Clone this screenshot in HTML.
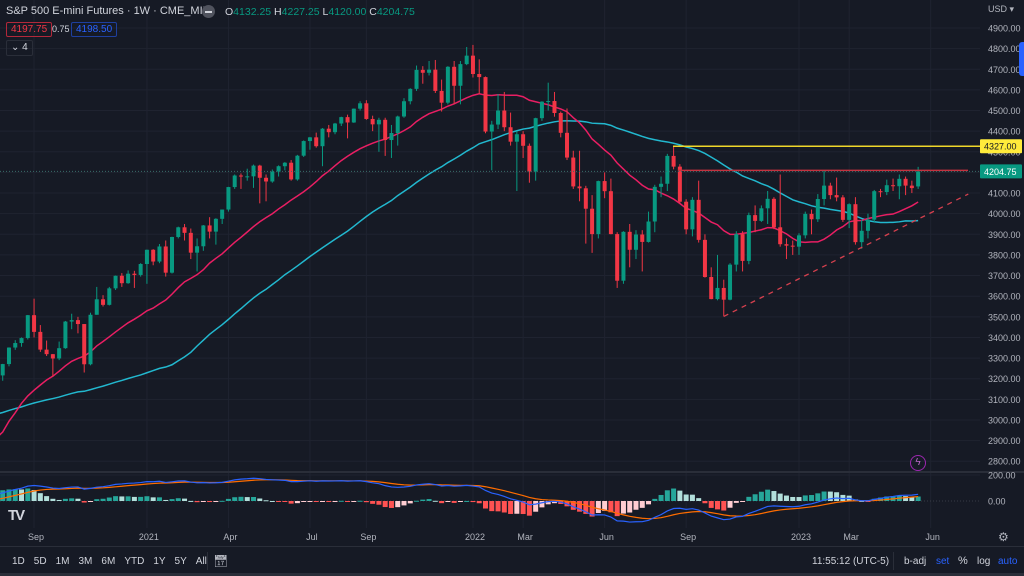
<!DOCTYPE html>
<html><head><meta charset="utf-8">
<style>
html,body{margin:0;padding:0;background:#161a25;}
body{width:1024px;height:576px;overflow:hidden;position:relative;font-family:"Liberation Sans",sans-serif;}
svg{position:absolute;left:0;top:0;}
.t{position:absolute;font-size:11px;color:#d1d4dc;white-space:nowrap;}
</style></head>
<body>
<svg id="chart" width="1024" height="576"></svg>

<div class="t" style="left:6px;top:5px;font-size:11px">S&amp;P 500 E-mini Futures · 1W · CME_MINI</div>
<div style="position:absolute;left:202px;top:5px;width:13px;height:13px;border-radius:50%;background:#50535e"><div style="position:absolute;left:3px;top:6px;width:7px;height:1.5px;background:#d1d4dc"></div></div>
<div class="t" style="left:225px;top:6px;font-size:10.5px">O<span style="color:#089981">4132.25</span> H<span style="color:#089981">4227.25</span> L<span style="color:#089981">4120.00</span> C<span style="color:#089981">4204.75</span></div>
<div class="t" style="left:6px;top:22px;border:1px solid #b2283a;border-radius:2px;padding:1px 4px;color:#f23645;font-size:10px">4197.75</div>
<div class="t" style="left:52px;top:24px;font-size:9px">0.75</div>
<div class="t" style="left:71px;top:22px;border:1px solid #1e3f9e;border-radius:2px;padding:1px 4px;color:#2962ff;font-size:10px">4198.50</div>
<div class="t" style="left:6px;top:40px;border:1px solid #2a2e39;border-radius:2px;padding:0 4px;font-size:10px;height:14px;line-height:14px">⌄ 4</div>

<div class="t" style="left:988px;top:4px;font-size:9px;color:#b2b5be">USD ▾</div>
<div style="position:absolute;left:1019px;top:42px;width:5px;height:34px;background:#2962ff;border-radius:3px 0 0 3px"></div>

<div class="t" style="left:910px;top:455px;width:14px;height:14px;border:1.5px solid #9c27b0;border-radius:50%;color:#ba68c8;font-size:10px;text-align:center;line-height:14px">ϟ</div>
<div class="t" style="left:8px;top:507px;font-size:15px;font-weight:bold;color:#d1d4dc;letter-spacing:-2px">TV</div>
<div class="t" style="left:998px;top:530px;font-size:12px;color:#b2b5be">⚙</div>

<div style="position:absolute;left:0;top:546px;width:1024px;height:1px;background:#2a2e39"></div>
<div id="tb" class="t" style="left:12px;top:556px;font-size:10px;color:#d1d4dc"></div>
<div style="position:absolute;left:207px;top:552px;width:1px;height:18px;background:#2a2e39"></div>
<div class="t" style="left:213px;top:554px;font-size:12px;color:#b2b5be">📅︎</div>
<div class="t" style="left:812px;top:556px;font-size:10px">11:55:12 (UTC-5)</div>
<div style="position:absolute;left:893px;top:552px;width:1px;height:18px;background:#2a2e39"></div>
<div class="t" style="left:904px;top:556px;font-size:10px">b-adj</div>
<div class="t" style="left:936px;top:556px;font-size:10px;color:#2962ff">set</div>
<div class="t" style="left:958px;top:555px;font-size:11px">%</div>
<div class="t" style="left:977px;top:556px;font-size:10px">log</div>
<div class="t" style="left:998px;top:556px;font-size:10px;color:#2962ff">auto</div>
<div style="position:absolute;left:0;top:573px;width:1024px;height:3px;background:#2a2e39"></div>

<script>
// ---- data ----
const preCloses=[3026,2932,2918,2889,2847,2926,2979,3007,2992,2961,2952,2970,2986,3022,3066,3093,3120,3110,3141,3146,3169,3221,3240,3235,3265,3330,3295,3226,3328,3380,3338,2954,2972,2711,2305,2541,2489,2790,2875,2837,2831,2930,2864,2955,3044,3194,3041,3098,3009,3130,3185];
const opens=[3185,3224,3216,3271,3351,3373,3397,3508,3427,3341,3319,3298,3348,3477,3484,3465,3270,3510,3585,3558,3638,3699,3663,3709,3703,3756,3825,3768,3841,3714,3887,3934,3907,3811,3842,3943,3913,3975,4020,4129,4185,4180,4181,4233,4174,4156,4204,4230,4247,4166,4281,4352,4370,4327,4412,4395,4437,4468,4442,4509,4535,4459,4433,4455,4357,4391,4471,4545,4605,4697,4683,4698,4595,4538,4712,4620,4725,4766,4677,4662,4398,4432,4500,4419,4349,4385,4329,4204,4463,4543,4546,4488,4392,4272,4132,4123,4024,3901,4158,4109,3901,3675,3912,3825,3899,3863,3962,4130,4145,4280,4228,4058,3924,4067,3873,3693,3586,3640,3583,3753,3901,3771,3993,3965,4026,4072,3934,3852,3845,3840,3895,3999,3973,4071,4136,4090,4079,3970,4046,3862,3917,3971,4109,4105,4138,4133,4169,4136,4132];
const highs=[3238,3280,3272,3352,3387,3400,3509,3588,3460,3385,3320,3380,3480,3515,3500,3465,3520,3645,3605,3645,3700,3712,3725,3723,3760,3826,3828,3853,3870,3888,3937,3950,3928,3880,3945,3983,3978,4020,4130,4190,4195,4218,4238,4237,4190,4214,4234,4250,4260,4285,4355,4372,4393,4415,4430,4440,4470,4480,4510,4545,4550,4475,4465,4465,4430,4475,4560,4608,4718,4715,4740,4745,4650,4715,4740,4740,4808,4818,4748,4665,4450,4580,4590,4490,4400,4400,4340,4465,4545,4635,4590,4495,4510,4305,4305,4135,4090,4160,4200,4170,3910,3915,3950,3920,3920,4010,4140,4180,4290,4325,4240,4070,4080,4160,3900,3740,3800,3680,3760,3915,3915,4005,4040,4040,4110,4080,4190,3880,3870,3905,4010,4020,4095,4210,4150,4175,4090,4050,4080,3970,4000,4115,4120,4165,4170,4190,4180,4160,4227];
const lows=[3170,3200,3190,3260,3340,3355,3390,3400,3330,3310,3210,3290,3345,3440,3420,3230,3265,3510,3550,3555,3630,3645,3660,3640,3695,3660,3750,3760,3695,3710,3880,3870,3780,3720,3820,3880,3850,3950,4010,4120,4120,4160,4125,4050,4060,4150,4180,4210,4160,4160,4275,4310,4320,4230,4370,4385,4425,4365,4440,4500,4455,4400,4300,4280,4270,4330,4465,4530,4595,4630,4670,4585,4495,4530,4530,4530,4720,4660,4580,4390,4210,4410,4400,4330,4110,4270,4150,4160,4450,4500,4470,4370,4260,4120,4060,3855,3810,3880,4075,3900,3640,3660,3740,3780,3720,3860,3910,4080,4110,4215,4050,3900,3890,3860,3690,3585,3580,3502,3580,3720,3720,3755,3910,3960,3950,3925,3840,3780,3800,3800,3880,3900,3960,4040,4070,4060,3960,3930,3850,3830,3880,3960,4080,4090,4110,4070,4090,4100,4120];
const closes=[3224,3216,3271,3351,3373,3397,3508,3427,3341,3319,3298,3348,3477,3484,3465,3270,3510,3585,3558,3638,3699,3663,3709,3703,3756,3825,3768,3841,3714,3887,3934,3907,3811,3842,3943,3913,3975,4020,4129,4185,4180,4181,4233,4174,4156,4204,4230,4247,4166,4281,4352,4370,4327,4412,4395,4437,4468,4442,4509,4535,4459,4433,4455,4357,4391,4471,4545,4605,4697,4683,4698,4595,4538,4712,4620,4725,4766,4677,4662,4398,4432,4500,4419,4349,4385,4329,4204,4463,4543,4546,4488,4392,4272,4132,4123,4024,3901,4158,4109,3901,3675,3912,3825,3899,3863,3962,4130,4145,4280,4228,4058,3924,4067,3873,3693,3586,3640,3583,3753,3901,3771,3993,3965,4026,4072,3934,3852,3845,3840,3895,3999,3973,4071,4136,4090,4079,3970,4046,3862,3917,3971,4109,4105,4138,4133,4169,4136,4124,4204.75];
const priceTicks=[4900,4800,4700,4600,4500,4400,4300,4200,4100,4000,3900,3800,3700,3600,3500,3400,3300,3200,3100,3000,2900,2800];
const timeLabels=["Sep","2021","Apr","Jul","Sep","2022","Mar","Jun","Sep","2023","Mar","Jun"];
const timeLabelIdx=[7,25,38,51,60,77,85,98,111,129,137,150];
const macdTicks=[200,0];
const resistance=4210, yellowLevel=4327, lastPrice=4204.75;
const trendStart=[117,3502], trendEnd=[156,4095];

// ---- axes ----
const X=i=>799+(i-129)*6.27;
const Y=p=>28+(4900-p)*0.2063;
const MY=v=>501-v*0.13;
const HY=v=>501-v*0.26;
const NS="http://www.w3.org/2000/svg";
const svg=document.getElementById('chart');
function el(tag,a,parent){const e=document.createElementNS(NS,tag);for(const k in a)e.setAttribute(k,a[k]);(parent||svg).appendChild(e);return e;}

const defs=el('defs',{});
const cp=el('clipPath',{id:'pc'},defs);el('rect',{x:0,y:0,width:980,height:471},cp);
const cm=el('clipPath',{id:'mc'},defs);el('rect',{x:0,y:473,width:980,height:54},cm);

const grid=el('g',{});


priceTicks.forEach(p=>el('line',{x1:0,x2:980,y1:Y(p),y2:Y(p),stroke:'#1f2330','stroke-width':1},grid));
timeLabelIdx.forEach(i=>el('line',{x1:X(i),x2:X(i),y1:0,y2:528,stroke:'#1f2330','stroke-width':1},grid));
el('line',{x1:0,x2:980,y1:MY(200),y2:MY(200),stroke:'#1f2330'},grid);
el('line',{x1:0,x2:1024,y1:472,y2:472,stroke:'#2a2e39','stroke-width':2});

const pa=el('g',{});


priceTicks.forEach(p=>{const t=el('text',{x:988,y:Y(p)+3.5,fill:'#b2b5be','font-size':9,'font-family':'Liberation Sans'},pa);t.textContent=p.toFixed(2);});
macdTicks.forEach(v=>{const t=el('text',{x:988,y:MY(v)+3.5,fill:'#b2b5be','font-size':9,'font-family':'Liberation Sans'},pa);t.textContent=v.toFixed(2);});
const ta=el('g',{});


timeLabels.forEach((s,k)=>{const t=el('text',{x:X(timeLabelIdx[k])+2,y:540,fill:'#b2b5be','font-size':9,'text-anchor':'middle','font-family':'Liberation Sans'},ta);t.textContent=s;});

const full=preCloses.concat(closes), off=preCloses.length;
function sma(n){const r=[];for(let i=0;i<closes.length;i++){let s=0;for(let k=0;k<n;k++)s+=full[off+i-k];r.push(s/n);}return r;}
const ma20=sma(20), ma50=sma(50);
const pp=el('g',{'clip-path':'url(#pc)'});
function poly(arr,col,name){const p=el('polyline',{points:arr.map((v,i)=>X(i)+','+Y(v)).join(' '),fill:'none',stroke:col,'stroke-width':1.5},pp);}
poly(ma50,'#22b8cf','ma50-line');
poly(ma20,'#e91e63','ma20-line');

const cg=el('g',{'clip-path':'url(#pc)'});
closes.forEach((c,i)=>{
  const o=opens[i],up=c>=o,col=up?'#089981':'#f23645',x=X(i);
  const g=el('g',{},cg);
  
  
  el('line',{x1:x,x2:x,y1:Y(highs[i]),y2:Y(lows[i]),stroke:col,'stroke-width':1},g);
  const yt=Y(Math.max(o,c)),yb=Y(Math.min(o,c));
  el('rect',{x:x-2,y:yt,width:4,height:Math.max(1,yb-yt),fill:col},g);
});

const yl=el('line',{x1:673,x2:980,y1:Y(yellowLevel),y2:Y(yellowLevel),stroke:'#f0d72a','stroke-width':1.5});


const rl=el('line',{x1:678,x2:968,y1:Y(resistance),y2:Y(resistance),stroke:'#c8313f','stroke-width':1.5});


const lp=el('line',{x1:0,x2:980,y1:Y(lastPrice),y2:Y(lastPrice),stroke:'#3a6d6a','stroke-width':1,'stroke-dasharray':'1 2'});


const tl=el('line',{x1:X(trendStart[0]),y1:Y(trendStart[1]),x2:X(trendEnd[0]),y2:Y(trendEnd[1]),stroke:'#d6404e','stroke-width':1.3,'stroke-dasharray':'5 5'});



const yb=el('rect',{x:980,y:Y(yellowLevel)-7,width:42,height:14,fill:'#ffeb3b',rx:1});


const yt=el('text',{x:984,y:Y(yellowLevel)+3.5,fill:'#131722','font-size':9,'font-family':'Liberation Sans'});yt.textContent=yellowLevel.toFixed(2);
const gb=el('rect',{x:980,y:Y(lastPrice)-7,width:42,height:14,fill:'#089981',rx:1});


const gt=el('text',{x:984,y:Y(lastPrice)+3.5,fill:'#ffffff','font-size':9,'font-family':'Liberation Sans'});gt.textContent=lastPrice.toFixed(2);

function ema(arr,n){const k=2/(n+1);const r=[arr[0]];for(let i=1;i<arr.length;i++)r.push(arr[i]*k+r[i-1]*(1-k));return r;}
const e12=ema(full,12),e26=ema(full,26);
const macdFull=e12.map((v,i)=>v-e26[i]);
const sigFull=ema(macdFull,9);
const macd=macdFull.slice(off),sig=sigFull.slice(off);
const hist=macd.map((v,i)=>v-sig[i]);
const mg=el('g',{'clip-path':'url(#mc)'});


el('line',{x1:0,x2:980,y1:MY(0),y2:MY(0),stroke:'#363a45','stroke-dasharray':'1 2'},mg);
hist.forEach((h,i)=>{
  const prev=i>0?hist[i-1]:(macdFull[off-1]-sigFull[off-1]);
  const col=h>=0?(h>=prev?'#26a69a':'#b2dfdb'):(h<prev?'#ff5252':'#ffcdd2');
  const b=el('rect',{x:X(i)-2.5,y:Math.min(HY(h),HY(0)),width:5,height:Math.max(1,Math.abs(HY(h)-HY(0))),fill:col},mg);
  
  
});
const sl=el('polyline',{points:sig.map((v,i)=>X(i)+','+MY(v)).join(' '),fill:'none',stroke:'#ff6d00','stroke-width':1.2},mg);


const ml=el('polyline',{points:macd.map((v,i)=>X(i)+','+MY(v)).join(' '),fill:'none',stroke:'#2962ff','stroke-width':1.2},mg);



const tfs=["1D","5D","1M","3M","6M","YTD","1Y","5Y","All"];
const tb=document.getElementById('tb');
tfs.forEach(s=>{const sp=document.createElement('span');sp.textContent=s;sp.style.marginRight='9px';


tb.appendChild(sp);});
</script>
</body></html>
